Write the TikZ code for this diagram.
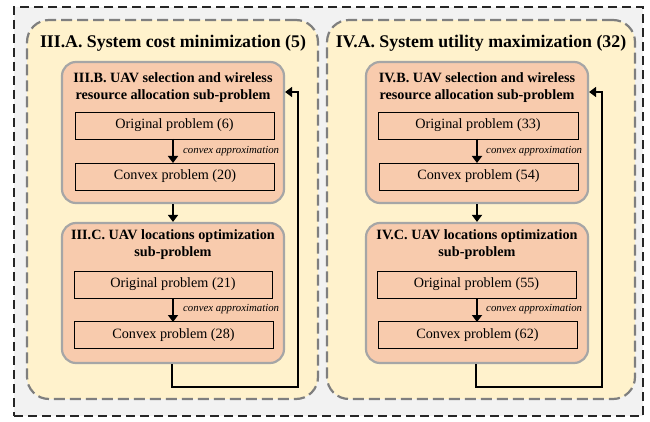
\documentclass[tikz,border=0pt]{standalone}
\usepackage{fontspec}
\setmainfont{Liberation Serif}
\usetikzlibrary{arrows.meta}
\definecolor{outerfill}{HTML}{F2F2F2}
\definecolor{panelfill}{HTML}{FFF2CC}
\definecolor{panelline}{HTML}{7F7F7F}
\definecolor{subfill}{HTML}{F8CBAD}
\definecolor{subline}{HTML}{A6A6A6}
\begin{document}
\begin{tikzpicture}[x=1pt,y=-1pt,
  outerbox/.style={draw=black!85, fill=outerfill, line width=1.6pt, dash pattern=on 9pt off 5pt, minimum width=629pt, minimum height=409pt, inner sep=0pt},
  panel/.style={draw=panelline, fill=panelfill, line width=2.2pt, dash pattern=on 11pt off 5pt, rounded corners=22pt, minimum height=379pt, inner sep=0pt},
  subbox/.style={draw=subline, fill=subfill, line width=2.2pt, rounded corners=14pt, minimum width=222pt, inner sep=0pt},
  probbox/.style={draw=black, fill=subfill, line width=0.9pt, minimum width=199pt, minimum height=27pt, inner sep=0pt, font=\fontsize{14.2}{17}\selectfont},
  paneltitle/.style={font=\fontsize{17.8}{21}\selectfont\bfseries, inner sep=0pt},
  subtitle/.style={font=\fontsize{14.2}{17}\selectfont\bfseries, align=center, inner sep=0pt},
  approx/.style={font=\fontsize{10.8}{12}\selectfont\itshape, inner sep=0pt, anchor=west},
  conn/.style={line width=2.8pt, -{Triangle[length=7pt,width=10pt]}},
  fb/.style={line width=2.4pt, -{Triangle[length=7pt,width=10pt]}}
]
\useasboundingbox (0,0) rectangle (650,422);
\node[outerbox] (outer) at (328.5,211.5) {};

% left panel
\node[panel, minimum width=291pt] (pl) at (172.5,209.5) {};
\node[paneltitle] (tl) at (173,43) {III.A. System cost minimization (5)};
\node[subbox, minimum height=141pt] (bl) at (173,132.5) {};
\node[subtitle] (tbl) at (173,88) {III.B. UAV selection and wireless\\resource allocation sub-problem};
\node[probbox] (ol1) at (174.5,125.5) {Original problem (6)};
\node[probbox] (cl1) at (175,176.5) {Convex problem (20)};
\node[subbox, minimum height=140pt] (cl) at (173,293) {};
\node[subtitle] (tcl) at (173,245) {III.C. UAV locations optimization\\sub-problem};
\node[probbox, minimum width=198pt] (ol2) at (173,284.5) {Original problem (21)};
\node[probbox] (cl2) at (173.5,335) {Convex problem (28)};
\draw[conn] (173,139) -- (173,163);
\node[approx] (xl1) at (183,151) {convex approximation};
\draw[conn] (173,298.5) -- (173,322);
\node[approx] (xl2) at (183,309) {convex approximation};
\draw[conn] (bl.south) -- (cl.north);
\coordinate (fl1) at (172,387);
\coordinate (fl2) at (298,387);
\coordinate (fl3) at (298,92);
\draw[fb] (cl.south -| fl1) -- (fl1) -- (fl2) -- (fl3) -- (bl.east |- fl3);

% right panel
\node[panel, minimum width=308pt] (pr) at (481,209.5) {};
\node[paneltitle] (tr) at (481,43) {IV.A. System utility maximization (32)};
\node[subbox, minimum height=141pt] (br) at (477,132.5) {};
\node[subtitle] (tbr) at (477,88) {IV.B. UAV selection and wireless\\resource allocation sub-problem};
\node[probbox, minimum width=200pt] (or1) at (478,125.5) {Original problem (33)};
\node[probbox] (cr1) at (478.5,176.5) {Convex problem (54)};
\node[subbox, minimum height=140pt] (cr) at (477,293) {};
\node[subtitle] (tcr) at (477,245) {IV.C. UAV locations optimization\\sub-problem};
\node[probbox] (or2) at (476.5,284.5) {Original problem (55)};
\node[probbox] (cr2) at (477.5,335) {Convex problem (62)};
\draw[conn] (477,139) -- (477,163);
\node[approx] (xr1) at (486,151) {convex approximation};
\draw[conn] (477,298.5) -- (477,322);
\node[approx] (xr2) at (486,309) {convex approximation};
\draw[conn] (br.south) -- (cr.north);
\coordinate (fr1) at (476,387);
\coordinate (fr2) at (602,387);
\coordinate (fr3) at (602,92);
\draw[fb] (cr.south -| fr1) -- (fr1) -- (fr2) -- (fr3) -- (br.east |- fr3);
\end{tikzpicture}
\end{document}
